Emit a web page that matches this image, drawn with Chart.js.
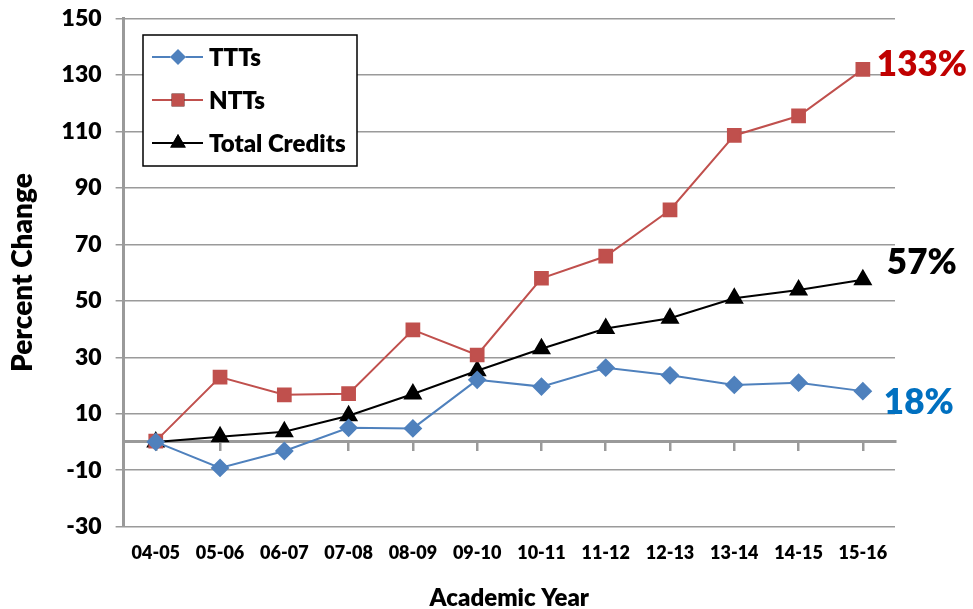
<!DOCTYPE html>
<html>
<head>
<meta charset="utf-8">
<script src="https://cdn.jsdelivr.net/npm/chart.js@4.4.0/dist/chart.umd.min.js"></script>
<style>
  html, body { margin: 0; padding: 0; background: #fff; }
  #wrap { width: 973px; height: 609px; position: relative; }
</style>
</head>
<body>
<div id="wrap"><canvas id="chart"></canvas></div>
<script>
// --- data ---
const years = ['04-05', '05-06', '06-07', '07-08', '08-09', '09-10', '10-11', '11-12', '12-13', '13-14', '14-15', '15-16'];
const ttts = [0, -9.2, -3.2, 5, 4.8, 22, 19.6, 26.3, 23.6, 20.2, 21, 18];
const ntts = [0.3, 23, 16.7, 17.1, 39.7, 30.8, 58, 65.8, 82.2, 108.6, 115.5, 132];
const totalCredits = [0, 1.8, 3.6, 9.3, 17, 25.2, 33, 40.2, 43.8, 50.9, 53.8, 57.5];
const endLabels = ['18%', '133%', '57%'];

const FONT = "Lato, 'Open Sans', sans-serif";
const WEIGHT = '800';
const GRID = '#9a9a9a';

// end-of-line percentage labels
const endLabelPlugin = {
  id: 'endLabels',
  afterDatasetsDraw(chart) {
    const ctx = chart.ctx;
    const colors = ['#0070C0', '#C00000', '#000000'];
    const offs = [[21, 12], [14, -5], [24, -17]];
    ctx.save();
    ctx.font = WEIGHT + ' 35px ' + FONT;
    ctx.textBaseline = 'middle';
    chart.data.datasets.forEach((ds, i) => {
      const pts = chart.getDatasetMeta(i).data;
      const p = pts[pts.length - 1];
      ctx.fillStyle = colors[i];
      ctx.fillText(endLabels[i], p.x + offs[i][0], p.y + offs[i][1]);
    });
    ctx.restore();
  }
};

// boxed legend inside the plot, line + marker like the original
const boxLegendPlugin = {
  id: 'boxLegend',
  afterDraw(chart) {
    const ctx = chart.ctx;
    const x = 143, y = 35, w = 214, h = 131;
    ctx.save();
    ctx.fillStyle = '#fff';
    ctx.fillRect(x, y, w, h);
    ctx.strokeStyle = '#000';
    ctx.lineWidth = 1.5;
    ctx.strokeRect(x, y, w, h);
    ctx.font = WEIGHT + ' 24px ' + FONT;
    ctx.textBaseline = 'middle';
    chart.data.datasets.forEach((ds, i) => {
      const cy = y + 22 + i * 43;
      ctx.strokeStyle = ds.borderColor;
      ctx.lineWidth = 2;
      ctx.beginPath();
      ctx.moveTo(x + 9, cy);
      ctx.lineTo(x + 60, cy);
      ctx.stroke();
      Chart.helpers.drawPoint(ctx, {
        pointStyle: ds.pointStyle, radius: ds.pointRadius, rotation: 0,
        borderWidth: 0
      }, x + 35, cy);
      ctx.fillStyle = ds.pointBackgroundColor;
      ctx.fill();
      ctx.fillStyle = '#000';
      ctx.fillText(ds.label, x + 66, cy + 1);
    });
    ctx.restore();
  }
};

new Chart(document.getElementById('chart'), {
  type: 'line',
  data: {
    labels: years,
    datasets: [
      {
        label: 'TTTs', data: ttts,
        borderColor: '#4F81BD', backgroundColor: '#4F81BD',
        pointBackgroundColor: '#4F81BD', pointBorderColor: '#4F81BD',
        pointStyle: 'rectRot', pointRadius: 8, borderWidth: 2, tension: 0
      },
      {
        label: 'NTTs', data: ntts,
        borderColor: '#C0504D', backgroundColor: '#C0504D',
        pointBackgroundColor: '#C0504D', pointBorderColor: '#C0504D',
        pointStyle: 'rect', pointRadius: 9, borderWidth: 2, tension: 0
      },
      {
        label: 'Total Credits', data: totalCredits,
        borderColor: '#000000', backgroundColor: '#000000',
        pointBackgroundColor: '#000000', pointBorderColor: '#000000',
        pointStyle: 'triangle', pointRadius: 9, borderWidth: 2, tension: 0
      }
    ]
  },
  options: {
    responsive: true,
    maintainAspectRatio: false,
    animation: false,
    layout: { padding: { left: 6, right: 78, top: 0, bottom: -4 } },
    plugins: {
      legend: { display: false },
      tooltip: { enabled: false }
    },
    scales: {
      x: {
        offset: true,
        grid: { display: true, drawOnChartArea: false, drawTicks: false },
        border: { display: false },
        ticks: { color: '#000', font: { family: FONT, size: 18, weight: WEIGHT }, padding: 16, maxRotation: 0 },
        title: { display: true, text: 'Academic Year', color: '#000', font: { family: FONT, size: 24, weight: WEIGHT }, padding: { top: 4, bottom: 0 } }
      },
      x0: {
        type: 'category',
        position: { y: 0 },
        offset: true,
        grid: { drawOnChartArea: false, drawTicks: true, color: GRID, lineWidth: 2.5, tickLength: 8 },
        border: { color: GRID, width: 3 },
        ticks: { display: true, callback: () => '' }
      },
      y: {
        min: -30, max: 150,
        ticks: { stepSize: 20, color: '#000', font: { family: FONT, size: 23, weight: WEIGHT, lineHeight: 0.4 }, padding: 14 },
        grid: { color: GRID, lineWidth: 1.5, tickLength: 8 },
        border: { color: GRID, width: 3 },
        title: { display: true, text: 'Percent Change', color: '#000', font: { family: FONT, size: 28, weight: WEIGHT }, padding: { top: 0, bottom: 8 } }
      }
    }
  },
  plugins: [endLabelPlugin, boxLegendPlugin]
});
</script>
</body>
</html>
